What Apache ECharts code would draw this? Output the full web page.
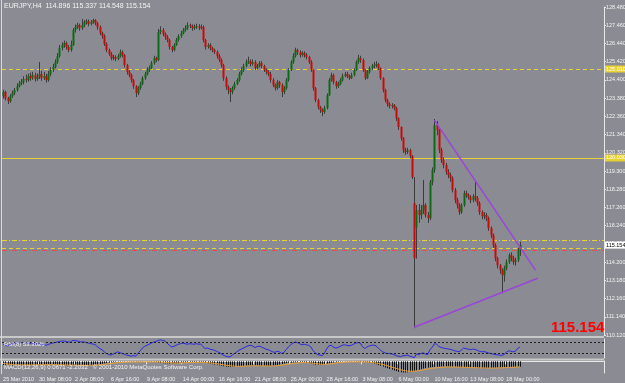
<!DOCTYPE html>
<html><head><meta charset="utf-8">
<script src="https://cdn.jsdelivr.net/npm/echarts@6/dist/echarts.min.js"></script>
<style>html,body{margin:0;padding:0;background:#8b8b93;}#c{width:625px;height:383px;}</style>
</head><body><div id="c"></div>
<script>
const dateTicks = ['25 Mar 2010','30 Mar 08:00','2 Apr 08:00','6 Apr 16:00','9 Apr 08:00','14 Apr 00:00','16 Apr 16:00','21 Apr 08:00','26 Apr 00:00','28 Apr 16:00','3 May 08:00','6 May 00:00','10 May 16:00','13 May 08:00','18 May 00:00'];
const slotCount = 268;
// [open, close, low, high]
const candles = [
[123.50,123.72,123.35,123.85],[123.72,123.38,123.25,123.80],[123.38,123.21,123.05,123.45],[123.21,123.49,123.12,123.60],[123.49,123.66,123.40,123.80],
[123.66,123.83,123.55,123.95],[123.83,124.05,123.75,124.20],[124.05,124.22,123.98,124.35],[124.22,124.28,124.10,124.45],[124.28,124.45,124.15,124.60],
[124.45,124.39,124.25,124.70],[124.39,124.61,124.30,124.75],[124.61,124.50,124.35,124.80],[124.50,124.67,124.40,124.85],[124.67,124.45,124.30,124.80],
[124.45,124.56,124.35,124.75],[124.56,124.73,124.45,125.40],[124.73,124.50,124.35,124.90],[124.50,124.61,124.40,124.85],[124.61,124.39,124.25,124.75],
[124.39,124.73,124.30,124.90],[124.73,124.95,124.60,125.10],[124.95,125.12,124.85,125.30],[125.12,125.40,125.05,125.55],[125.40,125.73,125.30,125.90],
[125.73,126.18,125.65,126.35],[126.18,126.35,126.05,126.50],[126.35,126.46,126.20,126.60],[126.46,126.24,126.10,126.55],[126.24,126.07,125.95,126.35],
[126.07,126.35,125.98,126.60],[126.35,127.19,126.30,127.30],[127.19,127.36,127.05,127.50],[127.36,127.47,127.25,127.60],[127.47,127.30,127.15,127.55],
[127.30,127.47,127.20,127.81],[127.47,127.64,127.35,127.75],[127.64,127.69,127.50,127.80],[127.69,127.53,127.40,127.78],[127.53,127.64,127.45,127.75],
[127.64,127.75,127.55,127.82],[127.75,127.58,127.45,127.80],[127.58,127.36,127.20,127.65],[127.36,127.02,126.90,127.45],[127.02,126.85,126.70,127.10],
[126.85,126.41,126.30,126.95],[126.41,126.07,125.95,126.50],[126.07,125.85,125.75,126.15],[125.85,125.62,125.50,125.95],[125.62,125.68,125.50,125.80],
[125.68,125.57,125.45,125.78],[125.57,125.73,125.50,125.85],[125.73,125.96,125.65,126.10],[125.96,125.79,125.65,126.05],[125.79,125.23,125.10,125.85],
[125.23,124.84,124.70,125.30],[124.84,124.67,124.55,124.95],[124.67,124.39,124.25,124.75],[124.39,124.05,123.90,124.45],[124.05,123.66,123.44,124.10],
[123.66,123.94,123.55,124.05],[123.94,124.17,123.85,124.30],[124.17,124.50,124.10,124.60],[124.50,124.73,124.40,124.85],[124.73,124.95,124.65,125.10],
[124.95,125.06,124.85,125.20],[125.06,125.34,125.00,125.45],[125.34,125.62,125.25,125.75],[125.62,125.51,125.40,125.70],[125.51,127.08,125.45,127.25],
[127.08,127.19,126.95,127.40],[127.19,126.97,126.85,127.30],[126.97,126.80,126.65,127.05],[126.80,126.63,126.50,126.90],[126.63,126.24,126.10,126.70],
[126.24,126.07,125.95,126.30],[126.07,126.35,126.00,126.45],[126.35,126.63,126.30,126.75],[126.63,126.85,126.55,126.95],[126.85,127.02,126.75,127.15],
[127.02,127.19,126.95,127.30],[127.19,127.30,127.10,127.45],[127.30,127.47,127.20,127.62],[127.47,127.41,127.30,127.55],[127.41,127.30,127.15,127.50],
[127.30,127.36,127.20,127.50],[127.36,127.41,127.25,127.55],[127.41,127.30,127.18,127.52],[127.30,127.36,127.22,127.50],[127.36,126.63,126.50,127.45],
[126.63,126.24,126.10,126.70],[126.24,126.35,126.15,126.45],[126.35,126.18,126.05,126.45],[126.18,126.07,125.95,126.25],[126.07,125.96,125.85,126.15],
[125.96,125.73,125.60,126.05],[125.73,125.51,125.40,125.85],[125.51,125.23,125.10,125.60],[125.23,124.50,124.35,125.30],[124.50,124.00,123.85,124.60],
[124.00,123.83,123.60,124.10],[123.83,123.72,123.16,123.95],[123.72,123.94,123.60,124.05],[123.94,124.17,123.85,124.30],[124.17,124.39,124.10,124.50],
[124.39,124.73,124.30,124.85],[124.73,124.95,124.65,125.10],[124.95,125.17,124.85,125.30],[125.17,125.40,125.10,125.55],[125.40,125.45,125.30,125.70],
[125.45,125.29,125.15,125.55],[125.29,125.40,125.20,125.55],[125.40,125.06,124.95,125.50],[125.06,125.17,124.98,125.30],[125.17,125.34,125.10,125.45],
[125.34,125.17,125.05,125.45],[125.17,124.95,124.85,125.25],[124.95,124.84,124.70,125.05],[124.84,124.73,124.60,124.95],[124.73,124.39,124.25,124.85],
[124.39,124.11,124.00,124.50],[124.11,123.94,123.80,124.20],[123.94,124.28,123.85,124.40],[124.28,124.11,123.95,124.35],[124.11,123.72,123.44,124.20],
[123.72,123.94,123.60,124.05],[123.94,124.39,123.85,124.50],[124.39,124.95,124.30,125.05],[124.95,125.40,124.90,125.50],[125.40,125.73,125.30,125.90],
[125.73,126.07,125.65,126.20],[126.07,125.96,125.80,126.15],[125.96,125.79,125.65,126.05],[125.79,125.90,125.70,126.00],[125.90,125.79,125.65,126.00],
[125.79,125.68,125.55,125.90],[125.68,125.40,125.30,125.75],[125.40,124.95,124.85,125.50],[124.95,123.94,123.80,125.00],[123.94,123.27,123.15,124.00],
[123.27,122.88,122.75,123.35],[122.88,122.71,122.55,122.95],[122.71,122.60,122.37,122.80],[122.60,122.82,122.50,122.95],[122.82,123.55,122.75,123.65],
[123.55,124.39,123.50,124.50],[124.39,124.67,124.30,124.80],[124.67,124.28,124.15,124.75],[124.28,124.05,123.90,124.35],[124.05,124.17,123.95,124.30],
[124.17,124.39,124.10,124.50],[124.39,124.61,124.30,124.75],[124.61,124.73,124.55,124.85],[124.73,124.61,124.50,124.85],[124.61,124.50,124.40,124.70],
[124.50,124.67,124.45,124.80],[124.67,124.95,124.60,125.05],[124.95,125.40,124.90,125.50],[125.40,125.62,125.30,125.80],[125.62,125.51,125.35,125.75],
[125.51,124.95,124.85,125.60],[124.95,124.50,124.40,125.00],[124.50,124.84,124.45,124.95],[124.84,125.06,124.75,125.15],[125.06,125.17,124.95,125.30],
[125.17,125.23,125.05,125.40],[125.23,125.29,125.10,125.45],[125.29,125.06,124.95,125.35],[125.06,124.50,124.40,125.10],[124.50,123.83,123.70,124.55],
[123.83,123.27,123.15,123.90],[123.27,123.05,122.90,123.35],[123.05,122.93,122.80,123.15],[122.93,122.99,122.80,123.10],[122.99,122.82,122.70,123.05],
[122.82,122.26,122.10,122.90],[122.26,121.76,121.60,122.30],[121.76,121.14,121.00,121.80],[121.14,120.47,120.30,121.20],[120.47,120.36,120.20,120.60],
[120.36,120.47,120.25,120.60],[120.47,120.14,120.00,120.55],[120.14,118.96,118.85,120.20],[117.50,114.42,110.50,118.96],[116.14,117.11,114.40,117.40],
[117.11,116.83,116.40,117.45],[116.83,117.11,116.60,117.40],[117.11,117.39,116.90,118.80],[117.39,116.83,116.70,117.50],[116.83,116.66,116.40,117.00],
[116.66,118.68,116.55,118.80],[118.68,119.35,118.50,119.50],[119.35,121.87,119.20,122.21],[121.87,121.59,121.30,122.10],[121.59,120.47,120.30,121.65],
[120.47,119.91,119.75,120.60],[119.91,119.63,119.45,120.05],[119.63,119.24,119.10,119.75],[119.24,119.07,118.90,119.40],[119.07,118.90,118.70,119.20],
[118.90,118.23,118.10,119.00],[118.23,117.67,117.50,118.35],[117.67,117.39,117.20,117.80],[117.39,117.00,116.85,117.50],[117.00,117.39,116.90,117.50],
[117.39,118.06,117.30,118.20],[118.06,117.95,117.80,118.20],[117.95,117.84,117.70,118.05],[117.84,117.67,117.50,117.95],[117.67,117.89,117.55,118.00],
[117.89,117.78,117.60,118.68],[117.78,117.50,117.35,117.90],[117.50,117.00,116.85,117.60],[117.00,116.77,116.60,117.10],[116.77,116.83,116.60,117.00],
[116.83,116.66,116.50,116.95],[116.66,116.10,115.95,116.75],[116.10,115.71,115.55,116.20],[115.71,115.15,115.00,115.80],[115.15,114.42,114.25,115.25],
[114.42,114.03,113.85,114.50],[114.03,113.75,113.55,114.10],[113.75,113.47,112.46,113.85],[113.47,113.86,113.10,114.00],[113.86,114.20,113.75,114.35],
[114.20,114.59,114.10,114.70],[114.59,114.42,114.25,114.75],[114.42,114.20,114.05,114.55],[114.20,114.31,114.00,114.45],[114.31,114.896,114.20,115.00],
[114.896,115.154,114.548,115.337]
];
const rsiValues = [
63,60,58,62,65,66,68,70,69,71,68,70,67,69,64,66,70,
62,64,60,63,66,68,70,72,74,
75,76,74,72,73,78,77,76,74,
72,73,70,68,66,65,62,
55,48,44,36,30,26,24,
28,32,36,33,30,27,
24,22,20,22,20,
30,40,50,56,60,64,
68,72,74,78,80,78,76,
68,60,54,56,60,64,66,68,66,64,66,65,64,
66,64,65,55,48,50,46,44,42,
38,34,30,24,20,18,17,
24,30,36,42,46,50,
54,58,60,58,52,55,57,54,50,46,44,40,36,34,
38,36,30,34,44,54,62,68,72,
70,66,62,64,62,60,54,40,32,
26,24,22,30,46,58,
60,54,50,52,56,60,62,60,58,60,64,68,
70,68,55,48,54,58,60,61,
58,50,42,36,32,30,30,28,26,22,20,18,
22,22,24,20,18,14,28,26,
30,32,28,26,44,52,66,64,56,
52,50,48,47,45,43,40,38,36,42,50,48,46,
44,46,45,42,38,36,37,35,32,30,28,26,25,24,23,26,
34,40,38,36,38,48,53.3026
];
const rsiLevels = [70, 30];
const oscHist = [
-0.70,-0.72,-0.75,-0.78,-0.80,-0.80,-0.78,-0.76,-0.74,-0.72,-0.70,-0.70,-0.68,-0.66,-0.66,-0.65,-0.64,-0.62,-0.60,-0.60,
-0.60,-0.62,-0.64,-0.66,-0.68,-0.70,-0.72,-0.74,-0.74,-0.72,-0.70,-0.72,-0.75,-0.78,-0.80,-0.80,-0.78,-0.76,-0.74,-0.72,
-0.70,-0.66,-0.60,-0.54,-0.46,-0.38,-0.30,-0.22,-0.16,-0.12,-0.10,-0.08,-0.08,-0.06,-0.06,-0.05,-0.05,-0.06,-0.08,-0.10,
-0.10,-0.08,-0.06,-0.05,-0.05,-0.06,-0.08,-0.10,-0.14,-0.20,-0.28,-0.34,-0.38,-0.40,-0.40,-0.38,-0.36,-0.34,-0.30,-0.26,
-0.22,-0.18,-0.15,-0.14,-0.14,-0.15,-0.16,-0.18,-0.20,-0.24,-0.30,-0.36,-0.44,-0.52,-0.60,-0.68,-0.76,-0.84,-0.92,-1.00,
-1.05,-1.08,-1.06,-1.02,-0.98,-0.94,-0.90,-0.86,-0.82,-0.80,-0.78,-0.78,-0.80,-0.82,-0.84,-0.86,-0.88,-0.90,-0.90,-0.88,
-0.84,-0.78,-0.70,-0.60,-0.50,-0.40,-0.32,-0.26,-0.22,-0.20,-0.18,-0.16,-0.16,-0.18,-0.20,-0.26,-0.34,-0.44,-0.54,-0.62,
-0.68,-0.70,-0.66,-0.58,-0.48,-0.38,-0.28,-0.20,-0.14,-0.10,-0.08,-0.06,-0.06,-0.05,-0.05,-0.06,-0.06,-0.08,-0.10,-0.12,
-0.14,-0.16,-0.20,-0.26,-0.34,-0.44,-0.56,-0.70,-0.84,-1.00,-1.16,-1.30,-1.44,-1.58,-1.72,-1.86,-1.98,-2.06,-2.10,-2.12,
-2.08,-2.02,-1.94,-1.84,-1.72,-1.60,-1.48,-1.36,-1.26,-1.18,-1.12,-1.08,-1.04,-1.02,-1.00,-0.98,-0.98,-0.98,-1.00,-1.02,
-1.04,-1.06,-1.08,-1.10,-1.12,-1.14,-1.16,-1.18,-1.20,-1.22,-1.24,-1.26,-1.28,-1.30,-1.30,-1.30,-1.28,-1.26,-1.24,-1.22,
-1.20,-1.18,-1.16,-1.14,-1.12,-1.10,-1.08,-1.06,-1.04,-1.02,-1.00
];
const oscSignal = [
-0.40,-0.45,-0.50,-0.55,-0.60,-0.62,-0.64,-0.66,-0.68,-0.68,-0.68,-0.68,-0.68,-0.67,-0.67,-0.66,-0.66,-0.65,-0.64,-0.63,
-0.62,-0.62,-0.62,-0.63,-0.64,-0.65,-0.66,-0.68,-0.69,-0.70,-0.70,-0.70,-0.71,-0.72,-0.73,-0.74,-0.75,-0.75,-0.75,-0.74,
-0.73,-0.72,-0.70,-0.67,-0.63,-0.58,-0.53,-0.47,-0.41,-0.36,-0.31,-0.27,-0.23,-0.20,-0.17,-0.15,-0.13,-0.12,-0.11,-0.11,
-0.11,-0.10,-0.10,-0.09,-0.09,-0.09,-0.09,-0.09,-0.10,-0.12,-0.14,-0.17,-0.20,-0.23,-0.26,-0.28,-0.30,-0.31,-0.31,-0.30,
-0.29,-0.27,-0.25,-0.23,-0.21,-0.20,-0.19,-0.19,-0.19,-0.20,-0.22,-0.25,-0.29,-0.33,-0.38,-0.44,-0.50,-0.57,-0.64,-0.71,
-0.78,-0.84,-0.88,-0.91,-0.93,-0.93,-0.93,-0.92,-0.90,-0.88,-0.86,-0.85,-0.84,-0.84,-0.84,-0.84,-0.85,-0.86,-0.87,-0.87,
-0.87,-0.85,-0.82,-0.78,-0.72,-0.66,-0.59,-0.52,-0.46,-0.40,-0.35,-0.31,-0.27,-0.25,-0.24,-0.25,-0.27,-0.31,-0.36,-0.42,
-0.48,-0.53,-0.56,-0.57,-0.55,-0.51,-0.46,-0.40,-0.34,-0.28,-0.23,-0.19,-0.15,-0.13,-0.11,-0.10,-0.09,-0.09,-0.09,-0.10,
-0.11,-0.12,-0.14,-0.17,-0.21,-0.26,-0.32,-0.40,-0.49,-0.59,-0.71,-0.83,-0.95,-1.08,-1.21,-1.34,-1.47,-1.59,-1.69,-1.78,
-1.84,-1.87,-1.88,-1.86,-1.82,-1.77,-1.70,-1.62,-1.54,-1.46,-1.39,-1.32,-1.26,-1.21,-1.17,-1.13,-1.10,-1.08,-1.07,-1.06,
-1.06,-1.07,-1.08,-1.09,-1.10,-1.12,-1.13,-1.15,-1.16,-1.18,-1.19,-1.21,-1.22,-1.24,-1.25,-1.26,-1.27,-1.27,-1.27,-1.26,
-1.25,-1.24,-1.22,-1.20,-1.18,-1.16,-1.14,-1.12,-1.10,-1.08,-1.06
];
const priceLevels = [
  {name:'upper', value:125.010, color:'#e8d234', type:[4,3], tag:true},
  {name:'mid', value:120.030, color:'#e8d234', type:'solid', tag:true},
  {name:'a', value:115.440, color:'#e8d234', type:[5,2,1,2], tag:false},
  {name:'b', value:114.990, color:'#e8d234', type:[4,3], tag:false},
  {name:'c', value:114.880, color:'#e05050', type:[5,2,1,2], tag:false}
];
const bidPrice = 115.154;
const trendUpper = [[192,122.15],[237,113.75]];
const trendLower = [[183,110.55],[238,113.30]];

const cats = Array.from({length: slotCount}, (_, i) => String(i));
const candleData = candles.map((c, i) => [i, c[0], c[1], c[2], c[3]]);
const rsiData = rsiValues.map((v, i) => [i, v]);
const histData = oscHist.map((v, i) => [i, v]);
const sigData = oscSignal.map((v, i) => [i, v]);

const FONT = '"Liberation Sans",Arial,sans-serif';
const txt = '#f4f4f4';
const chart = echarts.init(document.getElementById('c'), null, {renderer:'canvas'});

function candleItem(params, api) {
  const x = api.value(0), o = api.value(1), c = api.value(2), l = api.value(3), h = api.value(4);
  const po = api.coord([x, o]), pc = api.coord([x, c]), pl = api.coord([x, l]), ph = api.coord([x, h]);
  const cx = Math.round(po[0]) + 0.5;
  const top = Math.min(po[1], pc[1]), bot = Math.max(po[1], pc[1]);
  return {type:'group', children:[
    {type:'line', shape:{x1:cx, y1:ph[1], x2:cx, y2:pl[1]}, style:{stroke:'#3c3c3c', lineWidth:1}},
    {type:'rect', shape:{x:cx - 1, y:top, width:2, height:Math.max(1, bot - top)}, style:{fill: c >= o ? '#0e6a12' : '#c80a0a'}}
  ]};
}
function histItem(params, api) {
  const x = api.value(0), v = api.value(1);
  const p0 = api.coord([x, 0]), p1 = api.coord([x, v]);
  const cx = Math.round(p0[0]) + 0.5;
  return {type:'line', shape:{x1:cx, y1:p0[1], x2:cx, y2:p1[1]}, style:{stroke:'#111', lineWidth:1}};
}

const tickShow = (i) => i % 16 === 0 && i / 16 < dateTicks.length;
const xBase = {type:'category', data:cats, boundaryGap:true, axisLine:{show:false}, axisTick:{show:false}, axisLabel:{show:false}, splitLine:{show:false}};
const yLabel = {color:txt, fontSize:5.5, fontFamily:FONT, margin:2};

const markLines = priceLevels.map(l => ({
  yAxis:l.value,
  lineStyle:{color:l.color, type:l.type, width:1},
  label:{show:l.tag, position:'end', formatter:l.value.toFixed(3), color:'#fff', backgroundColor:l.color, fontSize:5.5, fontFamily:FONT, padding:[1,2,0,1], distance:1}
}));
markLines.push({yAxis:bidPrice, lineStyle:{color:'rgba(0,0,0,0)', width:0}, label:{show:true, position:'end', formatter:bidPrice.toFixed(3), color:'#000', backgroundColor:'#ffffff', fontSize:5.5, fontFamily:FONT, padding:[1,2,0,1], distance:1}});

const gridBase = {left:2, width:602, outerBoundsMode:'none', containLabel:false};
const smallTitle = (text, left, top) => ({text, left, top, padding:0, textStyle:{color:txt, fontSize:6, fontWeight:'normal', fontFamily:FONT}});

chart.setOption({
  backgroundColor:'#8b8b93',
  animation:false,
  title:[
    {text:'EURJPY,H4  114.896 115.337 114.548 115.154', left:4, top:3, padding:0, textStyle:{color:txt, fontSize:7, fontWeight:'normal', fontFamily:FONT}},
    {text:bidPrice.toFixed(3), left:551, top:320, padding:0, textStyle:{color:'#ff0000', fontSize:15, fontWeight:'bold', fontFamily:FONT}},
    smallTitle('RSI(8) 53.3026', 4, 341),
    smallTitle('MACD(12,26,9) 0.0671 -2.2032   © 2001-2010 MetaQuotes Software Corp.', 4, 364)
  ],
  grid:[
    Object.assign({top:7, height:328}, gridBase),
    Object.assign({top:339, height:19}, gridBase),
    Object.assign({top:361, height:12}, gridBase)
  ],
  xAxis:[
    Object.assign({gridIndex:0}, xBase),
    Object.assign({gridIndex:1}, xBase),
    Object.assign({}, xBase, {gridIndex:2, axisLine:{show:true, lineStyle:{color:'#e8e8e8'}},
      axisTick:{show:true, length:3, interval:tickShow, lineStyle:{color:'#e8e8e8'}},
      axisLabel:{show:true, interval:tickShow, showMinLabel:true, hideOverlap:false, formatter:(v, i) => dateTicks[i / 16] || '', align:'left', color:txt, fontSize:5.5, fontFamily:FONT, margin:3}})
  ],
  yAxis:[
    {gridIndex:0, type:'value', position:'right', min:110.12, max:128.48, interval:1.02,
      axisLine:{show:true, lineStyle:{color:'#e8e8e8'}}, axisTick:{show:true, length:2, lineStyle:{color:'#e8e8e8'}},
      axisLabel:Object.assign({formatter:v => v.toFixed(3)}, yLabel), splitLine:{show:false}},
    {gridIndex:1, type:'value', position:'right', min:13.3, max:83.3, interval:70,
      axisLine:{show:true, lineStyle:{color:'#e8e8e8'}}, axisTick:{show:false},
      axisLabel:{show:false}, splitLine:{show:false}},
    {gridIndex:2, type:'value', position:'right', min:-2.2032, max:0.0671,
      axisLine:{show:true, lineStyle:{color:'#e8e8e8'}}, axisTick:{show:false},
      axisLabel:{show:false}, splitLine:{show:false}}
  ],
  series:[
    {type:'custom', name:'EURJPY', xAxisIndex:0, yAxisIndex:0, data:candleData, encode:{x:0, y:[1,2,3,4]}, renderItem:candleItem, z:3,
      markLine:{silent:true, symbol:'none', data:markLines, z:2}},
    {type:'line', name:'trend1', xAxisIndex:0, yAxisIndex:0, data:trendUpper, symbol:'none', lineStyle:{color:'#9b45d8', width:1.5}, z:4},
    {type:'line', name:'trend2', xAxisIndex:0, yAxisIndex:0, data:trendLower, symbol:'none', lineStyle:{color:'#9b45d8', width:1.5}, z:4},
    {type:'line', name:'RSI', xAxisIndex:1, yAxisIndex:1, data:rsiData, symbol:'none', lineStyle:{color:'#2a2ae0', width:1},
      markLine:{silent:true, symbol:'none', data:rsiLevels.map(v => ({yAxis:v, lineStyle:{color:'#202020', type:[2,2], width:1}, label:{show:false}}))}},
    {type:'custom', name:'hist', xAxisIndex:2, yAxisIndex:2, data:histData, encode:{x:0, y:1}, renderItem:histItem},
    {type:'line', name:'signal', xAxisIndex:2, yAxisIndex:2, data:sigData, symbol:'none', lineStyle:{color:'#f0a030', width:1}}
  ],
  graphic:[
    {type:'rect', shape:{x:0, y:336, width:604, height:2}, style:{fill:'#c8c8c8'}, z:10},
    {type:'rect', shape:{x:0, y:358.5, width:604, height:2}, style:{fill:'#c8c8c8'}, z:10},
    {type:'line', shape:{x1:1.5, y1:0, x2:1.5, y2:374}, style:{stroke:'#d8d8d8', lineWidth:1}, z:10}
  ]
});
</script></body></html>
